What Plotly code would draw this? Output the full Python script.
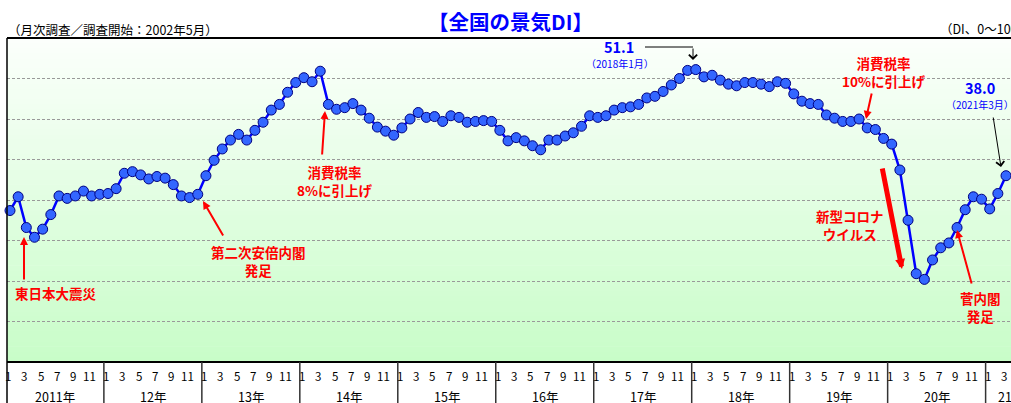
import plotly.graph_objects as go

# ---------------- data (TDB 全国の景気DI, monthly) ----------------
di_2011 = [33.7, 35.4, 31.6, 30.4, 31.4, 33.2, 35.5, 35.2, 35.5, 36.1, 35.5, 35.7]
di_2012 = [35.8, 36.4, 38.3, 38.5, 38.1, 37.6, 37.9, 37.7, 36.9, 35.5, 35.3, 35.7]
di_2013 = [38.0, 39.9, 41.3, 42.4, 43.1, 42.4, 43.6, 44.6, 46.1, 46.8, 48.3, 49.5]
di_2014 = [50.1, 49.6, 50.9, 46.8, 46.2, 46.4, 46.9, 46.1, 45.1, 44.0, 43.5, 43.0]
di_2015 = [43.9, 45.0, 45.8, 45.2, 45.3, 44.7, 45.4, 45.2, 44.6, 44.7, 44.8, 44.7]
di_2016 = [43.6, 42.3, 42.7, 42.3, 41.7, 41.2, 42.4, 42.4, 42.9, 43.3, 44.1, 45.4]
di_2017 = [45.2, 45.4, 46.1, 46.4, 46.5, 46.8, 47.6, 47.8, 48.4, 49.2, 50.0, 51.0]
di_2018 = [51.1, 50.2, 50.4, 49.8, 49.3, 49.1, 49.5, 49.5, 49.3, 49.0, 49.6, 49.4]
di_2019 = [48.1, 47.2, 46.9, 46.8, 45.5, 45.1, 44.7, 44.7, 45.0, 43.9, 43.7, 42.6]
di_2020 = [41.9, 38.7, 32.5, 25.9, 25.2, 27.6, 29.1, 29.7, 31.6, 33.8, 35.4, 35.1]
di_2021 = [33.9, 35.8, 38.0]

years = [2011, 2012, 2013, 2014, 2015, 2016, 2017, 2018, 2019, 2020, 2021]
year_labels = ["2011年", "12年", "13年", "14年", "15年", "16年", "17年", "18年", "19年", "20年", "21年"]
month_tick_labels = ["1", "3", "5", "7", "9", "11"]

di_values = (di_2011 + di_2012 + di_2013 + di_2014 + di_2015 + di_2016 +
             di_2017 + di_2018 + di_2019 + di_2020 + di_2021)
month_index = list(range(len(di_values)))

# ---------------- geometry helpers (for annotation placement) ----------------
W, H = 1011, 403
L, T, B, R = 7, 38, 41, 0
plot_w = W - L - R
plot_h = H - T - B
x_range = [-0.367, 122.61]
y_range = [15, 55]


def px_x(px):
    return x_range[0] + (px - L) / plot_w * (x_range[1] - x_range[0])


def py_y(py):
    return y_range[1] - (py - T) / plot_h * (y_range[1] - y_range[0])


def py_paper(py):
    return (H - B - py) / plot_h


def px_paper(px):
    return (px - L) / plot_w


FONT = "Noto Sans CJK JP"
RED = "#FF0000"
BLUE = "#0000FF"

fig = go.Figure()
fig.add_trace(go.Scatter(
    x=month_index, y=di_values, mode="lines+markers",
    line=dict(color=BLUE, width=2.5),
    marker=dict(size=10, color="#3366FF", line=dict(color="#000080", width=1)),
    hoverinfo="y", showlegend=False, cliponaxis=False,
))

shapes = []
# gradient plot background
N = 64
top_c = (252, 255, 252)
bot_c = (200, 253, 200)
for k in range(N):
    t0 = k / N
    t1 = (k + 1) / N
    f = (k + 0.5) / N  # 0 bottom -> 1 top
    c = tuple(round(bot_c[j] + (top_c[j] - bot_c[j]) * f) for j in range(3))
    shapes.append(dict(type="rect", xref="paper", yref="paper", x0=0, x1=1,
                       y0=t0, y1=t1 + 0.002, fillcolor="rgb(%d,%d,%d)" % c,
                       line=dict(width=0), layer="below"))
# frame
shapes.append(dict(type="line", xref="paper", yref="paper", x0=0, x1=1, y0=1, y1=1,
                   line=dict(color="black", width=2), layer="above"))
shapes.append(dict(type="line", xref="paper", yref="paper", x0=0, x1=1, y0=0, y1=0,
                   line=dict(color="black", width=2), layer="above"))
shapes.append(dict(type="line", xref="paper", yref="paper", x0=0, x1=0,
                   y0=py_paper(H), y1=1, line=dict(color="black", width=1.5), layer="above"))
# year separators in the category axis area
for k in range(1, len(years)):
    xs = 12 * k - 0.5
    shapes.append(dict(type="line", xref="x", yref="paper", x0=xs, x1=xs,
                       y0=py_paper(H), y1=0, line=dict(color="#333333", width=1.5)))
# connector for 51.1 label
shapes.append(dict(type="line", xref="x", yref="y", x0=px_x(645), x1=px_x(693),
                   y0=py_y(47), y1=py_y(47), line=dict(color="black", width=1)))
fig.update_layout(shapes=shapes)

ann = []
# month & year tick labels
for yi, yr in enumerate(years):
    n_months = 12 if yi < len(years) - 1 else len(di_2021)
    for lab in month_tick_labels:
        m = int(lab)
        if m <= n_months:
            ann.append(dict(x=yi * 12 + (m - 1) - 0.25, y=py_paper(376), xref="x", yref="paper",
                            text=lab, showarrow=False, xanchor="center", yanchor="middle",
                            font=dict(family=FONT, size=11.5, color="black")))
    xc = yi * 12 + 5.5 if yi < len(years) - 1 else 122.6
    ann.append(dict(x=xc, y=py_paper(396), xref="x", yref="paper", text=year_labels[yi],
                    showarrow=False, xanchor="center", yanchor="middle",
                    font=dict(family=FONT, size=12.5, color="black")))

# titles
ann.append(dict(x=px_paper(510), y=py_paper(21), xref="paper", yref="paper",
                text="<b>【全国の景気DI】</b>", showarrow=False, xanchor="center", yanchor="middle",
                font=dict(family=FONT, size=20.5, color=BLUE)))
ann.append(dict(x=px_paper(6), y=py_paper(29), xref="paper", yref="paper",
                text="（月次調査／調査開始：2002年5月）", showarrow=False, xanchor="left",
                yanchor="middle", font=dict(family=FONT, size=12.5, color="black")))
ann.append(dict(x=px_paper(938), y=py_paper(28), xref="paper", yref="paper",
                text="（DI、0～100）", showarrow=False, xanchor="left",
                yanchor="middle", font=dict(family=FONT, size=12.5, color="black")))

# peak and latest value labels
peak_i = max(month_index, key=lambda i: di_values[i])
last_i = month_index[-1]
ann.append(dict(x=px_x(619), y=py_y(46), xref="x", yref="y",
                text="<b>%.1f</b>" % di_values[peak_i], showarrow=False,
                font=dict(family=FONT, size=14.5, color=BLUE)))
ann.append(dict(x=px_x(620), y=py_y(63), xref="x", yref="y",
                text="（%d年%d月）" % (2011 + peak_i // 12, peak_i % 12 + 1), showarrow=False,
                font=dict(family=FONT, size=10, color=BLUE)))
ann.append(dict(x=px_x(980), y=py_y(87), xref="x", yref="y",
                text="<b>%.1f</b>" % di_values[last_i], showarrow=False,
                font=dict(family=FONT, size=14.5, color=BLUE)))
ann.append(dict(x=px_x(980), y=py_y(104), xref="x", yref="y",
                text="（%d年%d月）" % (2011 + last_i // 12, last_i % 12 + 1), showarrow=False,
                font=dict(family=FONT, size=10, color=BLUE)))


def arrow(tail, tip, color, width, head, size):
    return dict(x=px_x(tip[0]), y=py_y(tip[1]), ax=px_x(tail[0]), ay=py_y(tail[1]),
                xref="x", yref="y", axref="x", ayref="y", text="", showarrow=True,
                arrowcolor=color, arrowwidth=width, arrowhead=head, arrowsize=size,
                standoff=0, startstandoff=0)


ann.append(arrow((693, 47), (693, 60), "black", 1, 4, 1.6))
ann.append(arrow((993, 116), (1001, 167), "black", 1, 4, 1.6))
ann.append(arrow((24, 281), (24, 237), RED, 2, 2, 0.8))
ann.append(arrow((224, 237), (203, 201), RED, 2, 2, 0.8))
ann.append(arrow((322, 156), (325, 111), RED, 2, 2, 0.8))
ann.append(arrow((872, 92), (866, 119), RED, 2, 2, 0.8))
ann.append(arrow((882, 167), (902, 269), RED, 5, 2, 0.4))
ann.append(arrow((972, 285), (957, 230), RED, 2, 2, 0.8))


def label(text, cx, cy):
    return dict(x=px_x(cx), y=py_y(cy), xref="x", yref="y", text="<b>%s</b>" % text,
                showarrow=False, xanchor="center", yanchor="middle", align="center",
                font=dict(family=FONT, size=13.5, color=RED))


ann.append(label("東日本大震災", 56, 293))
ann.append(label("第二次安倍内閣<br>発足", 258, 261))
ann.append(label("消費税率<br>8%に引上げ", 334, 181))
ann.append(label("消費税率<br>10%に引上げ", 883, 72))
ann.append(label("新型コロナ<br>ウイルス", 850, 225))
ann.append(label("菅内閣<br>発足", 980, 307))

fig.update_layout(
    annotations=ann,
    width=W, height=H,
    margin=dict(l=L, r=R, t=T, b=B, pad=0),
    paper_bgcolor="white", plot_bgcolor="white",
    xaxis=dict(range=x_range, showticklabels=False, showgrid=False, zeroline=False,
               ticks="", fixedrange=True),
    yaxis=dict(range=y_range, dtick=5, showticklabels=False, showgrid=True,
               gridcolor="#999999", gridwidth=1, griddash="3px,2px", zeroline=False,
               ticks="", fixedrange=True),
    showlegend=False,
)

fig.write_html(
    "out.html",
    config={"displayModeBar": False},
    post_script="document.body.style.margin='0';document.body.style.overflow='hidden';",
)
